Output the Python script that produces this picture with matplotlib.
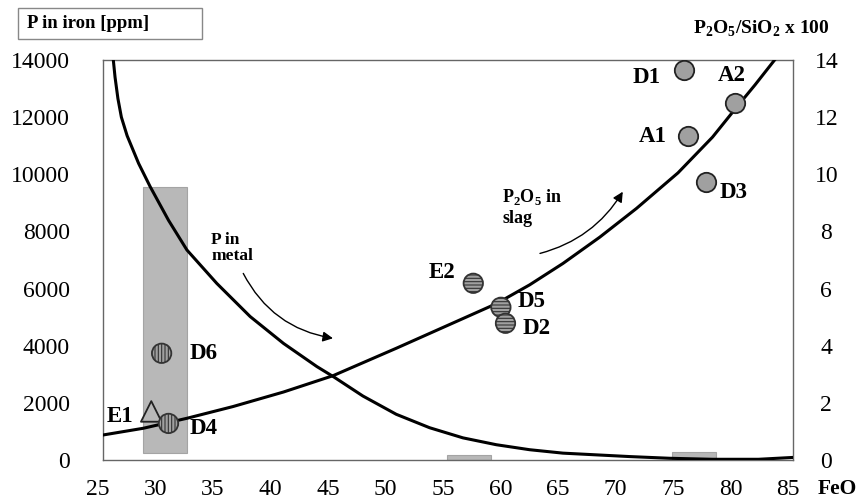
import matplotlib
matplotlib.use('Agg')
import matplotlib.pyplot as plt
import matplotlib.transforms as mtransforms
from matplotlib.patches import Rectangle

plt.rcParams['font.family'] = ['Liberation Serif', 'DejaVu Serif']
plt.rcParams['mathtext.fontset'] = 'custom'
plt.rcParams['mathtext.rm'] = 'Liberation Serif:bold'
plt.rcParams['mathtext.bf'] = 'Liberation Serif:bold'
plt.rcParams['hatch.linewidth'] = 0.8

# P in metal (ppm) trend
metal_x = [25.9, 26.05, 26.3, 26.6, 27.1, 28.1, 29.1, 30.7, 32.3, 34.9, 37.8, 40.7, 43.6, 45.1,
           47.6, 50.5, 53.4, 56.3, 59.2, 62.1, 65.0, 67.9, 70.8, 74.3, 78.0, 82.0, 85.0]
metal_y = [14000, 13400, 12650, 12000, 11350, 10380, 9570, 8390, 7350, 6180, 5020, 4080, 3270, 2900,
           2240, 1600, 1130, 775, 535, 360, 240, 180, 120, 60, 25, 25, 90]

# P2O5 in slag trend (same scale, x1000)
slag_x = [25.0, 28.5, 32.3, 36.3, 40.7, 45.0, 50.5, 56.3, 59.2, 62.1, 65.0, 68.2, 71.4,
          75.0, 78.0, 80.0, 81.7, 83.4]
slag_y = [875, 1110, 1460, 1870, 2380, 2950, 3910, 4950, 5470, 6130, 6880, 7800, 8808,
          10050, 11300, 12300, 13130, 14000]

# samples
plain_names = ['D1', 'A2', 'A1', 'D3']
plain_x = [75.5, 80.0, 75.9, 77.4]
plain_y = [13650, 12500, 11340, 9730]

horiz_names = ['E2', 'D5', 'D2']
horiz_x = [57.2, 59.6, 60.0]
horiz_y = [6185, 5345, 4785]

vert_names = ['D6', 'D4']
vert_x = [30.1, 30.7]
vert_y = [3735, 1280]

tri_names = ['E1']
tri_x = [29.2]
tri_y = [1700]

# grey ranges
range_x0 = [28.45, 54.9, 74.5]
range_x1 = [32.35, 58.7, 78.3]
range_y0 = [260, 0, 0]
range_y1 = [9550, 175, 280]

xticks = [25, 30, 35, 40, 45, 50, 55, 60, 65, 70, 75, 80, 85]
yticks_left = [0, 2000, 4000, 6000, 8000, 10000, 12000, 14000]
yticks_right = [0, 2, 4, 6, 8, 10, 12, 14]

fig = plt.figure(figsize=(8.66, 5.0), dpi=100)
ax = fig.add_axes([0.1189, 0.08, 0.7968, 0.8])
ax.set_xlim(25, 85)
ax.set_ylim(0, 14000)

for x0, x1, y0, y1 in zip(range_x0, range_x1, range_y0, range_y1):
    ax.add_patch(Rectangle((x0, y0), x1 - x0, y1 - y0, facecolor='#b8b8b8',
                           edgecolor='#a4a4a4', lw=0.8, zorder=2))

ax.plot(metal_x, metal_y, color='black', lw=2.2, zorder=3, solid_joinstyle='round')
ax.plot(slag_x, slag_y, color='black', lw=2.2, zorder=3, solid_joinstyle='round')

ms = 195
ax.scatter(tri_x, tri_y, s=220, marker='^', facecolor='none', edgecolor='#222222', lw=1.3, zorder=4)
ax.scatter(plain_x, plain_y, s=ms, marker='o', facecolor='#a0a0a0', edgecolor='#222222', lw=1.3, zorder=5)
ax.scatter(horiz_x, horiz_y, s=ms, marker='o', facecolor='#a0a0a0', edgecolor='#333333', lw=1.3,
           hatch='-----', zorder=5)
ax.scatter(vert_x, vert_y, s=ms, marker='o', facecolor='#a0a0a0', edgecolor='#333333', lw=1.3,
           hatch='|||||', zorder=5)

# label offsets in pixels from the marker centre
offsets = {'D1': (-37, -8), 'A2': (-4, 27), 'A1': (-36, -1), 'D3': (28, -10),
           'E2': (-31, 11), 'D5': (31, 6), 'D2': (31, -5), 'D6': (42, 0),
           'D4': (35, -5), 'E1': (-31, -5)}
all_names = plain_names + horiz_names + vert_names + tri_names
all_x = plain_x + horiz_x + vert_x + tri_x
all_y = plain_y + horiz_y + vert_y + tri_y
for n, x, y in zip(all_names, all_x, all_y):
    ax.annotate(n, (x, y), xytext=offsets[n], textcoords='offset pixels',
                ha='center', va='center', fontsize=16.5, fontweight='bold', zorder=6)

# annotations with curved arrows
ax.text(34.4, 7980, 'P in\nmetal', fontsize=12.5, fontweight='bold', va='top', ha='left',
        linespacing=1.0)
ax.annotate('', xy=(45.0, 4260), xytext=(37.2, 6530),
            arrowprops=dict(arrowstyle='-|>', color='black', lw=1.0, mutation_scale=15,
                            connectionstyle='arc3,rad=0.25', shrinkA=0, shrinkB=0))
ax.text(59.7, 9560, r'P$_{\mathbf{2}}$O$_{\mathbf{5}}$ in' + '\nslag', fontsize=13,
        fontweight='bold', va='top', ha='left', linespacing=1.25)
ax.annotate('', xy=(70.2, 9390), xytext=(63.0, 7230),
            arrowprops=dict(arrowstyle='-|>', color='black', lw=1.0, mutation_scale=15,
                            connectionstyle='arc3,rad=0.2', shrinkA=0, shrinkB=0))

for s in ax.spines.values():
    s.set_color('#666666')
    s.set_linewidth(1.0)

ax.set_xticks(xticks)
ax.set_yticks(yticks_left)
ax.tick_params(axis='x', length=0, pad=14, labelsize=17)
ax.tick_params(axis='y', length=0, pad=24, labelsize=17)
shift = mtransforms.ScaledTranslation(-5 / 100, 0, fig.dpi_scale_trans)
for lbl in ax.get_xticklabels():
    lbl.set_transform(lbl.get_transform() + shift)

ax2 = ax.twinx()
ax2.set_ylim(0, 14)
ax2.set_yticks(yticks_right)
ax2.tick_params(axis='y', length=0, pad=24, labelsize=17)
for lbl in ax2.get_yticklabels():
    lbl.set_horizontalalignment('center')
for s in ax2.spines.values():
    s.set_visible(False)

# axis titles
fig.patches.append(Rectangle((18 / 866, 1 - 39 / 500), 184 / 866, 31 / 500,
                             transform=fig.transFigure, facecolor='white',
                             edgecolor='#888888', lw=1.0))
fig.text(27 / 866, 1 - 24 / 500, 'P in iron [ppm]', fontsize=13.5, fontweight='bold',
         ha='left', va='center')
fig.text(761 / 866, 1 - 29 / 500, r'P$_{\mathbf{2}}$O$_{\mathbf{5}}$/SiO$_{\mathbf{2}}$ x 100',
         fontsize=14, fontweight='bold', ha='center', va='center')
fig.text(857 / 866, 1 - 489 / 500, 'FeO', fontsize=15.5, fontweight='bold',
         ha='right', va='center')

fig.savefig('out.png', dpi=100)
